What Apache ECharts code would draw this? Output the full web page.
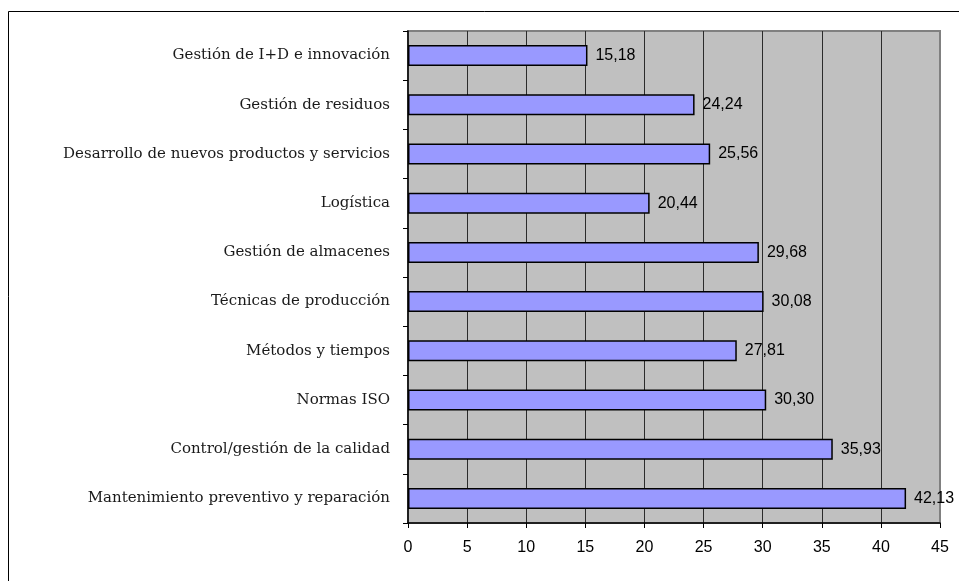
<!DOCTYPE html>
<html>
<head>
<meta charset="utf-8">
<script src="https://cdn.jsdelivr.net/npm/echarts@6/dist/echarts.min.js"></script>
<style>
  html, body { margin: 0; padding: 0; background: #fff; }
  #chart { width: 959px; height: 581px; }
</style>
</head>
<body>
<div id="chart"></div>
<script>
// categories, top to bottom as in the picture
var categories = [
  'Gestión de I+D e innovación',
  'Gestión de residuos',
  'Desarrollo de nuevos productos y servicios',
  'Logística',
  'Gestión de almacenes',
  'Técnicas de producción',
  'Métodos y tiempos',
  'Normas ISO',
  'Control/gestión de la calidad',
  'Mantenimiento preventivo y reparación'
];
var values = [15.18, 24.24, 25.56, 20.44, 29.68, 30.08, 27.81, 30.30, 35.93, 42.13];
var xTicks = [0, 5, 10, 15, 20, 25, 30, 35, 40, 45];

var myChart = echarts.init(document.getElementById('chart'));

myChart.setOption({
  animation: false,
  backgroundColor: '#fff',
  graphic: [{
    // outer chart frame (runs off the right and bottom edges)
    type: 'rect',
    shape: { x: 8.5, y: 11.5, width: 1000, height: 1000 },
    style: { fill: 'none', stroke: '#000', lineWidth: 1 },
    silent: true
  }],
  grid: {
    show: true,
    left: 408,
    top: 31,
    right: 19,
    bottom: 58,
    backgroundColor: '#c0c0c0',
    borderColor: '#808080',
    borderWidth: 2
  },
  xAxis: {
    type: 'value',
    min: xTicks[0],
    max: xTicks[xTicks.length - 1],
    interval: 5,
    axisLine: { show: true, lineStyle: { color: '#000', width: 1.5 } },
    axisTick: { show: true, length: 5, lineStyle: { color: '#000' } },
    axisLabel: {
      margin: 17,
      color: '#000',
      fontFamily: 'Liberation Sans, Arial, sans-serif',
      fontSize: 16
    },
    splitLine: {
      show: true,
      showMinLine: false,
      showMaxLine: false,
      lineStyle: { color: '#2b2b2b', width: 1 }
    }
  },
  yAxis: {
    type: 'category',
    inverse: true,
    data: categories,
    axisLine: { show: true, lineStyle: { color: '#000', width: 1.5 } },
    axisTick: { show: true, length: 5, lineStyle: { color: '#000' } },
    axisLabel: {
      margin: 18,
      color: '#1a1a1a',
      fontFamily: 'DejaVu Serif, serif',
      fontSize: 15
    },
    splitLine: { show: false }
  },
  series: [{
    type: 'bar',
    data: values,
    barWidth: 21,
    itemStyle: {
      color: '#9999ff',
      borderColor: '#000',
      borderWidth: 1.5
    },
    label: {
      show: true,
      position: 'right',
      distance: 8,
      color: '#000',
      fontFamily: 'Liberation Sans, Arial, sans-serif',
      fontSize: 16,
      formatter: function (p) {
        return p.value.toFixed(2).replace('.', ',');
      }
    }
  }]
});
</script>
</body>
</html>
